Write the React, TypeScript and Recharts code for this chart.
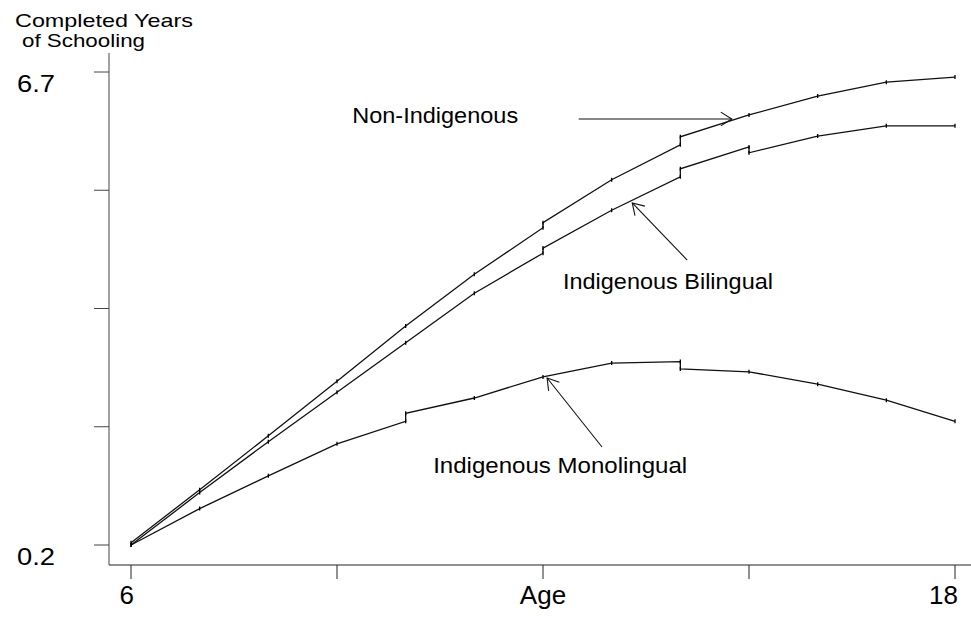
import React from 'react';
import { LineChart, Line, XAxis, YAxis, ReferenceLine, ReferenceDot } from 'recharts';

// ages and completed years for each group (repeated age = break in the fitted curve)
const nonIndigenousAges = [6, 7, 8, 9, 10, 11, 12, 12, 13, 14, 14, 15, 16, 17, 18];
const nonIndigenousYears = [0.23, 0.96, 1.7, 2.45, 3.21, 3.92, 4.56, 4.63, 5.22, 5.7, 5.81, 6.11, 6.37, 6.56, 6.63];

const bilingualAges = [6, 7, 8, 9, 10, 11, 12, 12, 13, 14, 14, 15, 15, 16, 17, 18];
const bilingualYears = [0.2, 0.92, 1.62, 2.3, 2.98, 3.66, 4.21, 4.28, 4.8, 5.26, 5.37, 5.67, 5.59, 5.82, 5.96, 5.96];

const monolingualAges = [6, 7, 8, 9, 10, 10, 11, 12, 13, 14, 14, 15, 16, 17, 18];
const monolingualYears = [0.2, 0.7, 1.15, 1.59, 1.9, 2.01, 2.22, 2.51, 2.7, 2.72, 2.62, 2.58, 2.41, 2.19, 1.9];

const xTicks = [6, 9, 12, 15, 18];
const xTickLabels: Record<number, string> = { 6: '6', 12: 'Age', 18: '18' };
const yTicks = [0.2, 1.825, 3.45, 5.075, 6.7];
const yTickLabels: Record<number, string> = { 0.2: '0.2', 6.7: '6.7' };

// annotation text and arrows, in data units [age, years]
const labels = [
  { text: 'Non-Indigenous', at: [10.43, 6.11], width: 166 },
  { text: 'Indigenous Bilingual', at: [13.82, 3.83], width: 210 },
  { text: 'Indigenous Monolingual', at: [12.25, 1.3], width: 254 },
];
const arrows = [
  { from: [12.52, 6.054], to: [14.75, 6.054] },
  { from: [14.1, 4.116], to: [13.3, 4.9] },
  { from: [12.86, 1.547], to: [12.06, 2.495] },
];

const FONT = '"Liberation Sans", Arial, Helvetica, sans-serif';

const zip = (ages: number[], years: number[]) => ages.map((age, i) => ({ age, years: years[i] }));

const series = [
  { name: 'Non-Indigenous', data: zip(nonIndigenousAges, nonIndigenousYears) },
  { name: 'Indigenous Bilingual', data: zip(bilingualAges, bilingualYears) },
  { name: 'Indigenous Monolingual', data: zip(monolingualAges, monolingualYears) },
];

const TickMark = (props: any) => {
  const { cx, cy, index } = props;
  if (cx == null || cy == null) return <g key={index} />;
  return <line key={index} x1={cx} x2={cx} y1={cy - 2} y2={cy + 2} stroke="#000" strokeWidth={1.3} />;
};

const Arrow = (props: any) => {
  const { x1, y1, x2, y2 } = props;
  const ang = Math.atan2(y1 - y2, x1 - x2);
  const len = 13;
  const spread = (32 * Math.PI) / 180;
  const a1 = [x2 + len * Math.cos(ang + spread), y2 + len * Math.sin(ang + spread)];
  const a2 = [x2 + len * Math.cos(ang - spread), y2 + len * Math.sin(ang - spread)];
  return (
    <g stroke="#111" strokeWidth={1.1} fill="none">
      <line x1={x1} y1={y1} x2={x2} y2={y2} />
      <polyline points={`${a1[0]},${a1[1]} ${x2},${y2} ${a2[0]},${a2[1]}`} />
    </g>
  );
};

const XTick = (props: any) => {
  const { x, payload } = props;
  const label = xTickLabels[payload.value];
  if (!label) return <g />;
  const isNum = label !== 'Age';
  return (
    <text
      x={isNum ? x + 3 : x}
      y={604}
      textAnchor={isNum ? 'end' : 'middle'}
      fontSize={26}
      fontFamily={FONT}
      fill="#000"
    >
      {label}
    </text>
  );
};

const YTick = (props: any) => {
  const { y, payload } = props;
  const label = yTickLabels[payload.value];
  if (!label) return <g />;
  return (
    <text x={17} y={y + 20} fontSize={24} fontFamily={FONT} fill="#000" textLength={38} lengthAdjust="spacingAndGlyphs">
      {label}
    </text>
  );
};

const AxisTitle = () => (
  <g fontFamily={FONT} fill="#000">
    <text x={15} y={27} fontSize={19} textLength={178} lengthAdjust="spacingAndGlyphs">
      Completed Years
    </text>
    <text x={22} y={47} fontSize={19} textLength={123} lengthAdjust="spacingAndGlyphs">
      of Schooling
    </text>
  </g>
);

export default function App() {
  return (
    <div style={{ position: 'absolute', left: 0, top: 0, background: '#fff' }}>
      <LineChart width={971} height={617} margin={{ top: 53, right: 0, bottom: 0, left: 0 }}>
        <XAxis
          dataKey="age"
          type="number"
          domain={[6, 18]}
          ticks={xTicks}
          padding={{ left: 22, right: 16 }}
          height={52}
          tickSize={14}
          tick={<XTick />}
          stroke="#222"
          allowDuplicatedCategory={false}
        />
        <YAxis
          type="number"
          domain={[0.2, 6.7]}
          ticks={yTicks}
          padding={{ top: 19, bottom: 20 }}
          width={109}
          tickSize={15}
          tick={<YTick />}
          stroke="#444"
          label={{ content: () => <AxisTitle /> }}
        />
        {series.map((s) => (
          <Line
            key={s.name}
            data={s.data}
            dataKey="years"
            name={s.name}
            type="linear"
            stroke="#111"
            strokeWidth={1.3}
            dot={TickMark}
            activeDot={false}
            isAnimationActive={false}
          />
        ))}
        {arrows.map((a, i) => (
          <ReferenceLine
            key={`arrow-${i}`}
            segment={[
              { x: a.from[0], y: a.from[1] },
              { x: a.to[0], y: a.to[1] },
            ]}
            shape={Arrow}
            ifOverflow="visible"
          />
        ))}
        {labels.map((l) => (
          <ReferenceDot
            key={l.text}
            x={l.at[0]}
            y={l.at[1]}
            r={0}
            ifOverflow="visible"
            shape={(p: any) => (
              <text
                x={p.cx}
                y={p.cy + 8}
                textAnchor="middle"
                fontSize={22}
                fontFamily={FONT}
                fill="#000"
                textLength={l.width}
                lengthAdjust="spacingAndGlyphs"
              >
                {l.text}
              </text>
            )}
          />
        ))}
      </LineChart>
    </div>
  );
}
